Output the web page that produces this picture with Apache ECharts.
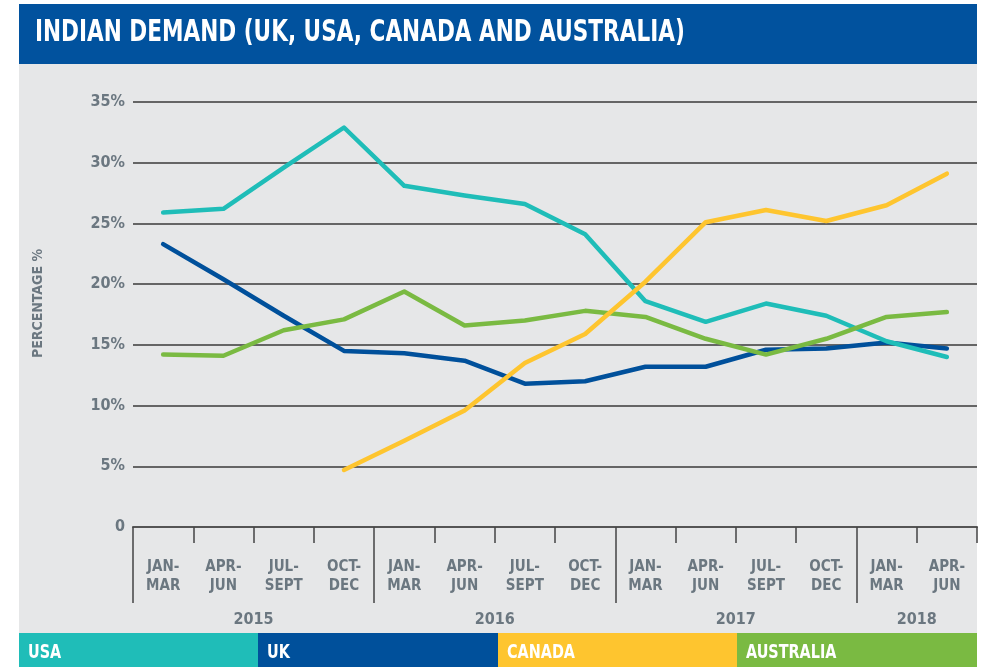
<!DOCTYPE html>
<html>
<head>
<meta charset="utf-8">
<title>Indian demand</title>
<script src="https://cdn.jsdelivr.net/npm/echarts@6/dist/echarts.min.js"></script>
<style>
  html, body { margin: 0; padding: 0; background: #fff; }
  #chart { width: 981px; height: 667px; }
</style>
</head>
<body>
<div id="chart"></div>
<script>
// quarter labels (14 quarters, Jan 2015 - Jun 2018)
var quarters = ['JAN-\nMAR', 'APR-\nJUN', 'JUL-\nSEPT', 'OCT-\nDEC',
                'JAN-\nMAR', 'APR-\nJUN', 'JUL-\nSEPT', 'OCT-\nDEC',
                'JAN-\nMAR', 'APR-\nJUN', 'JUL-\nSEPT', 'OCT-\nDEC',
                'JAN-\nMAR', 'APR-\nJUN'];
var years = ['2015', '2016', '2017', '2018'];
var yearSpan = [4, 4, 4, 2];   // quarters per year shown
var yTicks = [0, 5, 10, 15, 20, 25, 30, 35];

// series values, %
var usa       = [25.9, 26.2, 29.6, 32.9, 28.1, 27.3, 26.6, 24.1, 18.6, 16.9, 18.4, 17.4, 15.3, 14.0];
var uk        = [23.3, 20.4, 17.4, 14.5, 14.3, 13.7, 11.8, 12.0, 13.2, 13.2, 14.6, 14.7, 15.2, 14.7];
var canada    = [null, null, null, 4.7, 7.1, 9.6, 13.5, 15.9, 20.2, 25.1, 26.1, 25.2, 26.5, 29.1];
var australia = [14.2, 14.1, 16.2, 17.1, 19.4, 16.6, 17.0, 17.8, 17.3, 15.5, 14.2, 15.5, 17.3, 17.7];

var colors = { usa: '#1fbdb8', uk: '#00509b', canada: '#fec52f', australia: '#7aba42' };
var font = "'DejaVu Sans Condensed', 'Liberation Sans', sans-serif";
var grey = '#6b7780';

// year axis: boundaries between quarters (15 slots), year names centred on their span
var yearSlots = [];
var yearStarts = [];
for (var i = 0; i <= quarters.length; i++) yearSlots.push('');
var pos = 0;
for (var j = 0; j < years.length; j++) {
  yearStarts.push(pos);
  yearSlots[pos + yearSpan[j] / 2] = years[j];
  pos += yearSpan[j];
}

var myChart = echarts.init(document.getElementById('chart'));

var line = function (name, data, color) {
  return {
    name: name, type: 'line', data: data,
    xAxisIndex: 0, yAxisIndex: 0,
    symbol: 'none', connectNulls: false,
    lineStyle: { color: color, width: 4.5, cap: 'round', join: 'round' },
    itemStyle: { color: color }
  };
};

// squeezed text, the original uses a condensed face
var narrowText = function (x, y, text, size, sx) {
  return {
    type: 'text', x: x, y: y, scaleX: sx, scaleY: 1,
    style: { text: text, fill: '#fff', font: 'bold ' + size + 'px ' + font, verticalAlign: 'top', align: 'left' }
  };
};

var legendBox = function (x, label, color) {
  return {
    type: 'group', x: x, y: 633,
    children: [
      { type: 'rect', shape: { x: 0, y: 0, width: 240, height: 34 }, style: { fill: color } },
      narrowText(9, 10, label, 20, 0.8)
    ]
  };
};

var option = {
  backgroundColor: '#fff',
  animation: false,
  graphic: [
    { type: 'rect', z: -10, shape: { x: 19, y: 64, width: 958, height: 569 }, style: { fill: '#e6e7e8' } },
    { type: 'rect', shape: { x: 19, y: 4, width: 958, height: 60 }, style: { fill: '#01529e' } },
    narrowText(35, 18, 'INDIAN DEMAND (UK, USA, CANADA AND AUSTRALIA)', 30, 0.8),
    legendBox(19, 'USA', colors.usa),
    legendBox(258, 'UK', colors.uk),
    legendBox(498, 'CANADA', colors.canada),
    legendBox(737, 'AUSTRALIA', colors.australia)
  ],
  grid: [
    { left: 133, right: 4, top: 102, bottom: 140 },
    { left: 133, right: 4, top: 102, bottom: 140 }
  ],
  xAxis: [
    {
      type: 'category', gridIndex: 0, data: quarters, boundaryGap: true,
      axisLine: { lineStyle: { color: '#555', width: 2 } },
      axisTick: { show: true, interval: 0, length: 16, lineStyle: { color: '#444', width: 1.5 } },
      axisLabel: { interval: 0, margin: 31, color: grey, fontFamily: font, fontWeight: 'bold', fontSize: 15, lineHeight: 19 }
    },
    {
      type: 'category', gridIndex: 1, data: yearSlots, boundaryGap: false,
      axisLine: { show: false },
      axisTick: { show: true, length: 76, lineStyle: { color: '#444', width: 1.5 },
        interval: function (idx) { return yearStarts.indexOf(idx) >= 0; } },
      axisLabel: { interval: 0, margin: 85, color: grey, fontFamily: font, fontWeight: 'bold', fontSize: 16 }
    }
  ],
  yAxis: [
    {
      type: 'value', gridIndex: 0, min: yTicks[0], max: yTicks[yTicks.length - 1], interval: 5,
      name: 'PERCENTAGE %', nameLocation: 'middle', nameGap: 88, nameRotate: 90,
      nameTextStyle: { color: grey, fontFamily: font, fontWeight: 'bold', fontSize: 14, padding: [0, 0, 0, 22] },
      axisLine: { show: false }, axisTick: { show: false },
      axisLabel: { margin: 8, color: grey, fontFamily: font, fontWeight: 'bold', fontSize: 16,
        formatter: function (v) { return v === 0 ? '0' : v + '%'; } },
      splitLine: { show: true, lineStyle: { color: '#3a3a3a', width: 1.5 } }
    },
    { type: 'value', gridIndex: 1, show: false, min: 0, max: 35 }
  ],
  series: [
    line('UK', uk, colors.uk),
    line('USA', usa, colors.usa),
    line('AUSTRALIA', australia, colors.australia),
    line('CANADA', canada, colors.canada)
  ]
};

myChart.setOption(option);
</script>
</body>
</html>
